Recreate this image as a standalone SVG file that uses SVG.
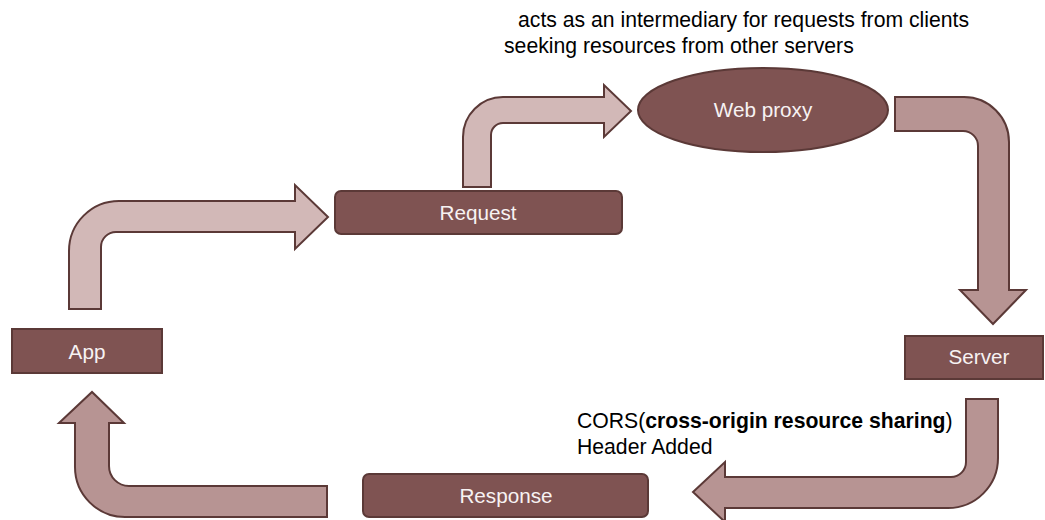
<svg xmlns="http://www.w3.org/2000/svg" width="1045" height="520" viewBox="0 0 1045 520">
<style>
.box{fill:#7F5352;stroke:#5B3937;stroke-width:2}
.lbl{font-family:"Liberation Sans",Arial,sans-serif;font-size:20.7px;fill:#F7F2F2;text-anchor:middle}
.note{font-family:"Liberation Sans",Arial,sans-serif;font-size:21.2px;fill:#000}
.arL{fill:#D2B8B7;stroke:#5B3937;stroke-width:2;stroke-linejoin:miter}
.arD{fill:#B79493;stroke:#5B3937;stroke-width:2;stroke-linejoin:miter}
</style>
<rect width="1045" height="520" fill="#fff"/>
<g id="connectors">
<path class="arL" d="M69,309 V251 A50,50 0 0 1 119,201 H295 V185 L328,217 L295,249 V232 H116 A15,15 0 0 0 101,247 V309 Z"/>
<path class="arL" d="M463,187 V137 A40,40 0 0 1 503,97 H604 V85 L631,111 L604,137 V123 H503 A12,12 0 0 0 491,135 V187 Z"/>
<path class="arD" d="M895,97 H964 A45,45 0 0 1 1009,142 V290 H1026 L993,324 L960,290 H978 V146 A15,15 0 0 0 963,131 H895 Z"/>
<path class="arD" d="M966,399 H998 V458 A50,50 0 0 1 948,508 H725 V522 L693,492 L725,462 V477 H951 A15,15 0 0 0 966,462 Z"/>
<path class="arD" d="M327,486 V517 H125 A50,50 0 0 1 75,467 V423 H59 L92,392 L124,423 H109 V466 A20,20 0 0 0 129,486 Z"/>
</g>
<g id="app">
<rect class="box" x="12" y="329" width="150" height="44"/>
<text class="lbl" x="87" y="359">App</text>
</g>
<g id="request">
<rect class="box" x="335" y="191" width="287" height="43" rx="6"/>
<text class="lbl" x="478" y="220">Request</text>
</g>
<g id="webproxy">
<ellipse class="box" cx="763" cy="110" rx="125" ry="42"/>
<text class="lbl" x="763" y="117">Web proxy</text>
</g>
<g id="server">
<rect class="box" x="905" y="336" width="138" height="43"/>
<text class="lbl" x="979" y="364">Server</text>
</g>
<g id="response">
<rect class="box" x="363" y="474" width="285" height="43" rx="6"/>
<text class="lbl" x="506" y="503">Response</text>
</g>
<g id="notes">
<text class="note" x="518" y="27">acts as an intermediary for requests from clients</text>
<text class="note" x="504" y="53">seeking resources from other servers</text>
<text class="note" x="577" y="428">CORS(<tspan font-weight="bold">cross-origin resource sharing</tspan>)</text>
<text class="note" x="577" y="454">Header Added</text>
</g>
</svg>
